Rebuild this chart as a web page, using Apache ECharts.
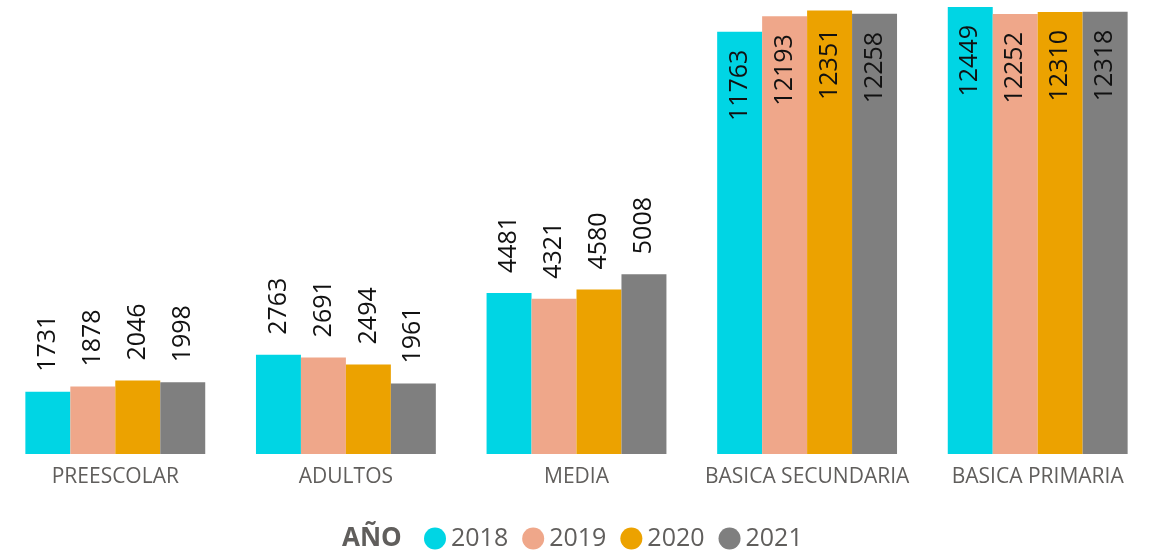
<!DOCTYPE html>
<html>
<head>
<meta charset="utf-8">
<style>
  html, body { margin: 0; padding: 0; background: #ffffff; }
  #chart { width: 1159px; height: 551px; }
</style>
<script src="https://cdn.jsdelivr.net/npm/echarts@6/dist/echarts.min.js"></script>
</head>
<body>
<div id="chart"></div>
<script>
// Matrícula por nivel educativo y año
const categories = ['PREESCOLAR', 'ADULTOS', 'MEDIA', 'BASICA SECUNDARIA', 'BASICA PRIMARIA'];
const years = ['2018', '2019', '2020', '2021'];
const values2018 = [1731, 2763, 4481, 11763, 12449];
const values2019 = [1878, 2691, 4321, 12193, 12252];
const values2020 = [2046, 2494, 4580, 12351, 12310];
const values2021 = [1998, 1961, 5008, 12258, 12318];
const colors = ['#00D5E4', '#EFA78A', '#ECA200', '#7F7F7F'];

const seriesValues = [values2018, values2019, values2020, values2021];
const fontFamily = '"Open Sans", "Noto Sans", sans-serif';

// Tall bars carry their label inside the top of the bar, short ones above it
function point(v) {
  const inside = v > 10000;
  return {
    value: v,
    label: inside
      ? { position: 'insideTop', align: 'right', distance: 18 }
      : { position: 'top', align: 'left', distance: 20 }
  };
}

const chart = echarts.init(document.getElementById('chart'), null, { renderer: 'canvas' });

chart.setOption({
  animation: false,
  color: colors,
  grid: { left: -3, right: 6, top: 7, bottom: 97, containLabel: false },
  legend: {
    data: years,
    left: 419,
    top: 521,
    icon: 'circle',
    itemWidth: 22,
    itemHeight: 22,
    itemGap: 14,
    textStyle: { fontFamily: fontFamily, fontSize: 25, color: '#605E5C' }
  },
  graphic: [{
    type: 'text',
    left: 342,
    top: 526,
    style: { text: 'AÑO', font: 'bold 26px ' + fontFamily, fill: '#605E5C' }
  }],
  xAxis: {
    type: 'category',
    data: categories,
    axisLine: { show: false },
    axisTick: { show: false },
    axisLabel: { interval: 0, margin: 13, fontFamily: fontFamily, fontSize: 21, color: '#605E5C' }
  },
  yAxis: {
    type: 'value',
    min: 0,
    max: 'dataMax',
    show: false,
    splitLine: { show: false }
  },
  series: years.map((y, i) => ({
    name: y,
    type: 'bar',
    barGap: '0%',
    barCategoryGap: '22%',
    data: seriesValues[i].map(point),
    label: {
      show: true,
      rotate: 90,
      verticalAlign: 'middle',
      fontFamily: fontFamily,
      fontSize: 25,
      color: '#111111'
    }
  }))
});
</script>
</body>
</html>
